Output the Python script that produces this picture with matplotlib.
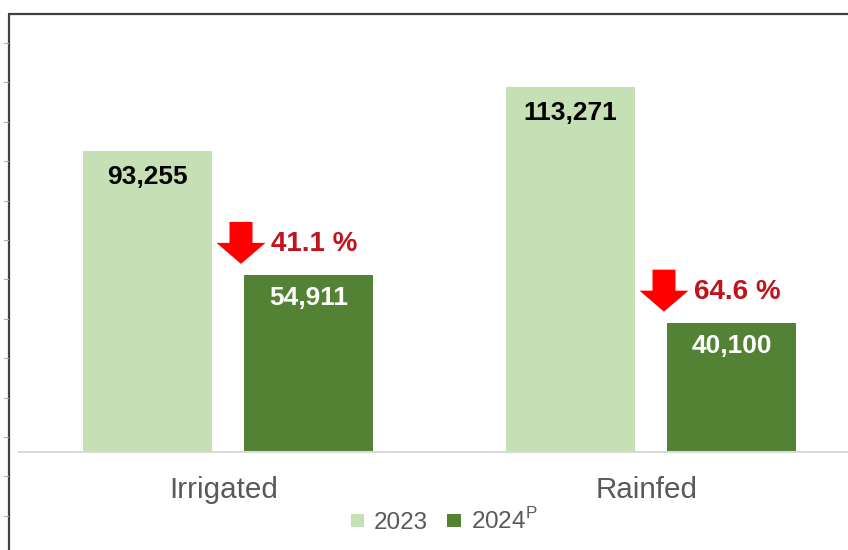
import matplotlib
matplotlib.use("Agg")
import matplotlib.pyplot as plt
import matplotlib.transforms as mtransforms
from matplotlib.patches import Polygon
from matplotlib.lines import Line2D
from matplotlib.patches import Patch
import numpy as np

categories = ["Irrigated", "Rainfed"]
series_names = ["2023", "2024$^{\\mathregular{P}}$"]
values_2023 = [93255, 113271]
values_2024 = [54911, 40100]
pct_drop = ["41.1 %", "64.6 %"]

c_light = "#C5E0B4"
c_dark = "#548235"
c_red_text = "#C0141C"
c_arrow = "#FF0000"
c_grey_text = "#595959"

plt.rcParams['font.family'] = ['Liberation Sans', 'DejaVu Sans']

W, H = 848, 550
fig = plt.figure(figsize=(W / 100, H / 100), dpi=100)
fig.patch.set_facecolor("white")

ax = fig.add_axes([19 / W, 1 - 452 / H, (W - 19) / W, 438 / H])
x = np.arange(len(categories))
bw = 0.305
off = 0.1903

b1 = ax.bar(x - off, values_2023, bw, color=c_light, label=series_names[0], zorder=2)
b2 = ax.bar(x + off, values_2024, bw, color=c_dark, label=series_names[1], zorder=2)

ax.set_xlim(-0.4941, 1.4657)
ax.set_ylim(0, 135800)
for s in ["left", "right", "top"]:
    ax.spines[s].set_visible(False)
ax.spines["bottom"].set_color("#D9D9D9")
ax.spines["bottom"].set_linewidth(1.5)
ax.set_yticks([])
ax.set_xticks(x - 0.01)
ax.set_xticklabels(categories, fontsize=21.3, color=c_grey_text)
ax.tick_params(axis="x", length=0, pad=17.5)

pt = 72 / 100  # px -> points
for xi, v in zip(x - off, values_2023):
    ax.annotate(f"{v:,}", (xi, v), xytext=(0, -26 * pt), textcoords="offset points",
                ha="center", va="center", fontsize=19, fontweight="bold", color="black")
for xi, v in zip(x + off, values_2024):
    ax.annotate(f"{v:,}", (xi, v), xytext=(0, -23 * pt), textcoords="offset points",
                ha="center", va="center", fontsize=19, fontweight="bold", color="white")

# down arrows and percentage labels
arrow_px = np.array([[-3, 11], [21.5, 32], [8.5, 32], [8.5, 53], [-14.5, 53], [-14.5, 32], [-27.5, 32]])
for xi, v, p in zip(x + off - bw / 2, values_2024, pct_drop):
    tr = mtransforms.Affine2D().scale(fig.dpi / 100) + mtransforms.ScaledTranslation(xi, v, ax.transData)
    poly = Polygon(arrow_px, closed=True, facecolor=c_arrow, edgecolor="none", transform=tr, zorder=3)
    ax.add_patch(poly)
    ax.annotate(p, (xi, v), xytext=(27 * pt, 31 * pt), textcoords="offset points",
                ha="left", va="center", fontsize=20, fontweight="bold", color=c_red_text)

leg = ax.legend(handles=[Patch(facecolor=c_light), Patch(facecolor=c_dark)],
                labels=series_names, loc="center", bbox_to_anchor=(444 / W, 1 - 521 / H),
                bbox_transform=fig.transFigure, ncol=2, frameon=False, fontsize=17.5,
                handlelength=0.55, handleheight=0.45, handletextpad=0.4, columnspacing=0.8,
                borderaxespad=0)
for t in leg.get_texts():
    t.set_color(c_grey_text)

# outer frame of the cropped screenshot
fig.add_artist(Line2D([8.5 / W, 8.5 / W], [0, 1 - 14 / H], color="#404040", lw=1.6,
                      transform=fig.transFigure, solid_capstyle="butt"))
fig.add_artist(Line2D([8 / W, 1], [1 - 14 / H, 1 - 14 / H], color="#404040", lw=1.6,
                      transform=fig.transFigure, solid_capstyle="butt"))
for ty in np.arange(43, 550, 39.4):
    fig.add_artist(Line2D([4 / W, 8 / W], [1 - ty / H, 1 - ty / H], color="#B0B0B0", lw=0.8,
                          transform=fig.transFigure))

fig.savefig("out.png", dpi=100, facecolor="white")
